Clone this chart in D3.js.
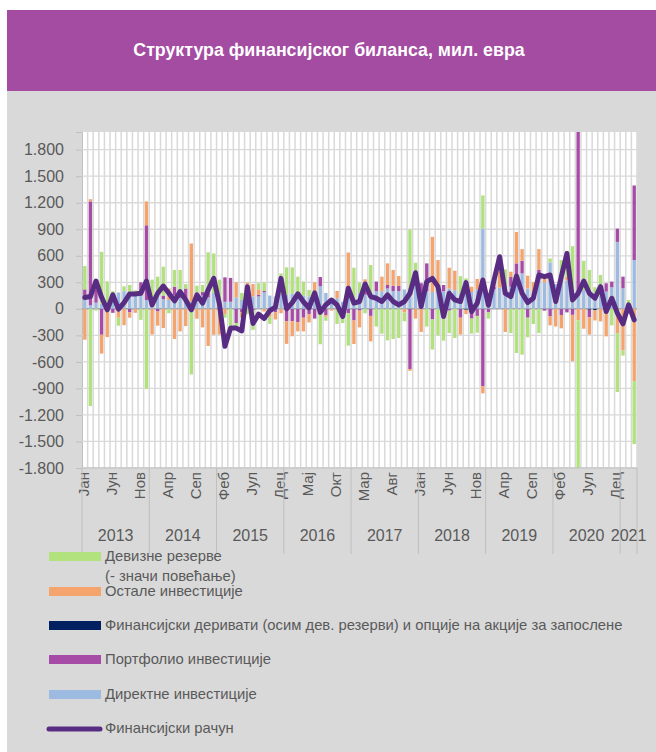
<!DOCTYPE html>
<html>
<head>
<meta charset="utf-8">
<script src="https://d3js.org/d3.v7.min.js"></script>
<style>
  html, body { margin: 0; padding: 0; background: #fff; }
  svg { display: block; }
</style>
</head>
<body>
<div id="chart"></div>
<script>
// month and year labels
var monthNames = ['Јан', 'Феб', 'Мар', 'Апр', 'Мај', 'Јун', 'Јул', 'Авг', 'Сеп', 'Окт', 'Нов', 'Дец'];
var years = [2013, 2014, 2015, 2016, 2017, 2018, 2019, 2020, 2021];
var monthsInYear = [12, 12, 12, 12, 12, 12, 12, 12, 3];
var yTicks = [-1800, -1500, -1200, -900, -600, -300, 0, 300, 600, 900, 1200, 1500, 1800];

// series, mil. EUR, Jan 2013 - Mar 2021
var direct = [120, 40, 70, 60, 70, 170, 185, 200, 180, 160, 150, 100,
  130, 150, 110, 100, 150, 120, 120, 80, 130, 150, 130, 180,
  60, 80, 80, 130, 100, 150, 140, 140, 187, 150, 140, 170,
  160, 170, 160, 150, 140, 170, 255, 180, 110, 120, 80, 120,
  130, 180, 160, 180, 200, 200, 230, 200, 200, 220, 160, 260,
  150, 200, 190, 230, 200, 230, 210, 170, 280, 190, 220, 907,
  100, 220, 240, 250, 250, 364, 401, 230, 140, 400, 300, 525,
  280, 300, 320, 214, 150, 214, 176, 176, 150, 195, 244, 757,
  232, 40, 551];
var derivatives = [0, 0, 0, 0, 0, 0, 0, 0, 0, 0, 0, 0,
  0, 0, 0, 0, 0, 0, 0, 0, 0, 0, 0, 0,
  0, 0, 0, 0, 0, 0, 0, 0, 0, 0, 0, 0,
  0, 0, 0, 0, 0, 0, 0, 0, 0, 0, 0, 0,
  0, 0, 0, 0, 0, 0, 0, 0, 0, 0, 0, 0,
  0, 0, 0, 0, 0, 0, 0, 0, -10, 0, 0, 0,
  0, 0, 0, 0, 0, 0, 0, 0, 0, 0, 0, 0,
  0, 0, 0, 0, 0, 0, -10, -15, 0, 0, 0, 0,
  0, 0, 0];
var portfolio = [100, 1175, 150, -293, -10, -45, 0, 0, -40, 0, 150, 845,
  0, -30, 40, 0, 100, 40, 110, 0, 0, 40, 50, 0,
  0, 276, 270, -160, -40, 0, -20, 20, 15, -30, -40, 0,
  -140, -140, -150, -100, -60, -110, 105, -70, 0, 0, -40, -50,
  -131, -20, 40, -80, 108, 0, 40, 60, 60, 0, -680, 30,
  140, 314, -120, 40, 70, -20, 0, -100, 0, -110, -80, -874,
  -40, 30, 0, 0, 110, 150, 143, -100, 0, 40, -20, -86,
  0, -70, -40, -68, 1900, 0, -86, 0, 0, 94, 64, 150,
  132, 0, 844];
var other = [-349, 25, 100, -213, -310, 0, -100, -185, -60, -45, 0, 270,
  -290, -160, -218, 130, -340, -255, -195, 659, -112, -210, -420, -293,
  -290, -60, 0, 170, -60, 146, 140, 60, -30, -60, -80, -50,
  -256, -170, -105, -155, -94, 130, 0, -20, -20, 82, -60, 517,
  -267, -190, 134, -288, 0, 164, 244, 179, 111, -40, -20, -110,
  -262, 0, 624, 281, -30, 235, 221, -190, -50, 60, 118, -82,
  0, 80, 180, -262, 60, 356, 131, 145, 160, 235, 80, -101,
  -200, -150, 40, -524, -130, -225, -195, -116, -142, -311, 0, -274,
  -472, -50, -817];
var reserves = [264, -1099, -20, 585, 240, 30, -90, 55, 90, 50, -125, -904,
  200, 214, 326, -50, 190, 280, 50, -742, 132, 80, 460, 446,
  270, -40, -190, -60, 80, -60, -218, 70, 94, -80, 0, 230,
  309, 299, 204, 158, 74, 0, -400, -45, 0, -170, -60, -366,
  335, 116, -50, 315, -200, -281, -356, -341, -330, -100, 736, 231,
  0, -200, -340, -300, -330, -254, -330, 200, 65, -170, -190, 375,
  -70, 0, 150, 196, -274, -499, -518, -222, -172, -274, 0, 45,
  0, 251, 296, 495, -1850, 330, 263, 68, 233, 0, -187, -667,
  -57, 60, -713];
var account = [128, 139, 315, 130, -11, 158, -4, 71, 169, 169, 176, 315,
  45, 176, 258, 176, 90, 195, 101, -11, 158, 64, 214, 345,
  60, -424, -218, -218, -250, 251, -165, -60, -110, -20, 20, 345,
  0, 70, 170, 80, 10, 180, -40, 45, 100, 45, -86, 233,
  64, 83, 281, 139, 120, 83, 158, 83, 45, 83, 176, 409,
  26, 308, 345, 251, -86, 176, 101, 83, 296, -30, 64, 326,
  40, 326, 589, 176, 139, 371, 176, 71, 120, 383, 364, 383,
  83, 364, 626, 101, 176, 315, 176, 120, 251, -30, 120, -49,
  -169, 45, -124];

var seriesInfo = [
  {key: 'direct', label: 'Директне инвестиције', color: '#9dbbe0', values: direct},
  {key: 'derivatives', label: 'Финансијски деривати (осим дев. резерви) и опције на акције за запослене', color: '#002060', values: derivatives},
  {key: 'portfolio', label: 'Портфолио инвестиције', color: '#a64ca6', values: portfolio},
  {key: 'other', label: 'Остале инвестиције', color: '#f4a46c', values: other},
  {key: 'reserves', label: 'Девизне резерве', color: '#b2e27e', values: reserves}
];

(function () {
  'use strict';
  var W = 656, H = 752;
  var margin = {left: 82, right: 19, top: 132, bottom: 284};
  var textColor = '#595959';
  var gridColor = '#d9d9d9';
  var font = 'Liberation Sans, Arial, sans-serif';

  // one row per month
  var rows = [];
  var labels = [];
  years.forEach(function (yr, yi) {
    for (var m = 0; m < monthsInYear[yi]; m++) {
      labels.push({year: yr, month: m, name: monthNames[m]});
    }
  });
  labels.forEach(function (l, i) {
    var r = {i: i};
    seriesInfo.forEach(function (s) { r[s.key] = s.values[i]; });
    rows.push(r);
  });

  var svg = d3.select('#chart').append('svg')
    .attr('width', W).attr('height', H);

  // panels
  svg.append('rect').attr('x', 7).attr('y', 10).attr('width', W - 7).attr('height', 81).attr('fill', '#a44ba2');
  svg.append('rect').attr('x', 7).attr('y', 91).attr('width', W - 7).attr('height', H - 91).attr('fill', '#d9d9d9');
  svg.append('text')
    .attr('x', 329).attr('y', 51)
    .attr('text-anchor', 'middle').attr('dominant-baseline', 'middle')
    .attr('fill', '#fff')
    .style('font-family', font)
    .style('font-weight', 'bold').style('font-size', '17.8px')
    .text('Структура финансијског биланса, мил. евра');

  var x0 = margin.left, x1 = W - margin.right;
  var y0 = margin.top, y1 = H - margin.bottom;

  var x = d3.scaleBand()
    .domain(rows.map(function (d) { return d.i; }))
    .range([x0, x1])
    .paddingInner(0.4).paddingOuter(0.2);
  var step = x.step();
  var y = d3.scaleLinear().domain([-1800, 2000]).range([y1, y0]);

  svg.append('rect').attr('x', x0).attr('y', y0).attr('width', x1 - x0).attr('height', y1 - y0).attr('fill', '#fff');

  // vertical grid, one per month
  svg.append('g').selectAll('line')
    .data(d3.range(rows.length + 1))
    .enter().append('line')
    .attr('x1', function (d) { return x0 + d * (x1 - x0) / rows.length; })
    .attr('x2', function (d) { return x0 + d * (x1 - x0) / rows.length; })
    .attr('y1', y0).attr('y2', y1)
    .attr('stroke', gridColor).attr('stroke-width', 1.5);

  // y axis
  var yAxis = svg.append('g')
    .attr('transform', 'translate(' + x0 + ',0)')
    .call(d3.axisLeft(y).tickValues(yTicks).tickSize(6)
      .tickFormat(function (d) { return d3.format(',')(d).replace(/,/g, '.').replace('−', '-'); }));
  yAxis.select('.domain').attr('stroke', '#bfbfbf');
  yAxis.selectAll('.tick line').attr('stroke', '#bfbfbf');
  yAxis.selectAll('.tick text')
    .attr('x', -18)
    .attr('fill', textColor)
    .style('font-family', font)
    .style('font-size', '16px');
  // horizontal grid
  svg.append('g').selectAll('line')
    .data(yTicks)
    .enter().append('line')
    .attr('x1', x0).attr('x2', x1)
    .attr('y1', function (d) { return y(d); })
    .attr('y2', function (d) { return y(d); })
    .attr('stroke', function (d) { return d === 0 ? '#a6a6a6' : gridColor; })
    .attr('stroke-width', function (d) { return d === 0 ? 1.5 : 1.3; });

  svg.append('defs').append('clipPath').attr('id', 'plotclip')
    .append('rect').attr('x', x0).attr('y', y0).attr('width', x1 - x0).attr('height', y1 - y0);

  // stacked bars
  var stack = d3.stack()
    .keys(seriesInfo.map(function (s) { return s.key; }))
    .offset(d3.stackOffsetDiverging);
  var layers = stack(rows);
  svg.append('g').attr('clip-path', 'url(#plotclip)')
    .selectAll('g')
    .data(layers)
    .enter().append('g')
    .attr('fill', function (d, i) { return seriesInfo[i].color; })
    .selectAll('rect')
    .data(function (d) { return d; })
    .enter().append('rect')
    .attr('x', function (d) { return x(d.data.i); })
    .attr('width', x.bandwidth())
    .attr('y', function (d) { return y(Math.max(d[0], d[1])); })
    .attr('height', function (d) { return Math.abs(y(d[0]) - y(d[1])); });

  // financial account line
  var line = d3.line()
    .x(function (d, i) { return x(i) + x.bandwidth() / 2; })
    .y(function (d) { return y(d); });
  svg.append('path')
    .datum(account)
    .attr('d', line)
    .attr('fill', 'none')
    .attr('stroke', '#582c83')
    .attr('stroke-width', 5)
    .attr('stroke-linejoin', 'round')
    .attr('stroke-linecap', 'round');

  // bottom axis line
  svg.append('line').attr('x1', x0).attr('x2', x1).attr('y1', y1).attr('y2', y1)
    .attr('stroke', '#bfbfbf');

  // month labels every 5 months
  svg.append('g').selectAll('text')
    .data(labels.filter(function (d, i) { return i % 5 === 0; }))
    .enter().append('text')
    .attr('transform', function (d) {
      var i = labels.indexOf(d);
      return 'translate(' + (x(i) + x.bandwidth() / 2) + ',' + (y1 + 4) + ') rotate(-90)';
    })
    .attr('text-anchor', 'end')
    .attr('dominant-baseline', 'middle')
    .attr('fill', textColor)
    .style('font-family', font)
    .style('font-size', '15px')
    .text(function (d) { return d.name; });

  // year separators and labels
  var start = 0;
  var yearPos = years.map(function (yr, yi) {
    var a = start, b = start + monthsInYear[yi];
    start = b;
    return {year: yr, a: x0 + a * step, b: x0 + b * step};
  });
  var sepX = [x0].concat(yearPos.map(function (d) { return d.b; }));
  svg.append('g').selectAll('line')
    .data(sepX)
    .enter().append('line')
    .attr('x1', function (d) { return d; }).attr('x2', function (d) { return d; })
    .attr('y1', y1).attr('y2', y1 + 86)
    .attr('stroke', '#bfbfbf');
  svg.append('g').selectAll('text')
    .data(yearPos)
    .enter().append('text')
    .attr('x', function (d) { return (d.a + d.b) / 2; })
    .attr('y', y1 + 73)
    .attr('text-anchor', 'middle')
    .attr('fill', textColor)
    .style('font-family', font)
    .style('font-size', '16px')
    .text(function (d) { return d.year; });

  // legend
  var legendItems = [
    {s: seriesInfo[4], y: 557, extra: '(- значи повећање)'},
    {s: seriesInfo[3], y: 592},
    {s: seriesInfo[1], y: 626},
    {s: seriesInfo[2], y: 660},
    {s: seriesInfo[0], y: 695}
  ];
  var lg = svg.append('g')
    .style('font-family', font)
    .style('font-size', '14.8px');
  legendItems.forEach(function (it) {
    lg.append('rect').attr('x', 49).attr('y', it.y - 5).attr('width', 52).attr('height', 9)
      .attr('fill', it.s.color);
    lg.append('text').attr('x', 105).attr('y', it.y).attr('dominant-baseline', 'middle')
      .attr('fill', textColor).text(it.s.label);
    if (it.extra) {
      lg.append('text').attr('x', 105).attr('y', it.y + 20).attr('dominant-baseline', 'middle')
        .attr('fill', textColor).text(it.extra);
    }
  });
  lg.append('line').attr('x1', 49).attr('x2', 100).attr('y1', 729).attr('y2', 729)
    .attr('stroke', '#582c83').attr('stroke-width', 5).attr('stroke-linecap', 'round');
  lg.append('text').attr('x', 105).attr('y', 729).attr('dominant-baseline', 'middle')
    .attr('fill', textColor).text('Финансијски рачун');
})();
</script>
</body>
</html>
